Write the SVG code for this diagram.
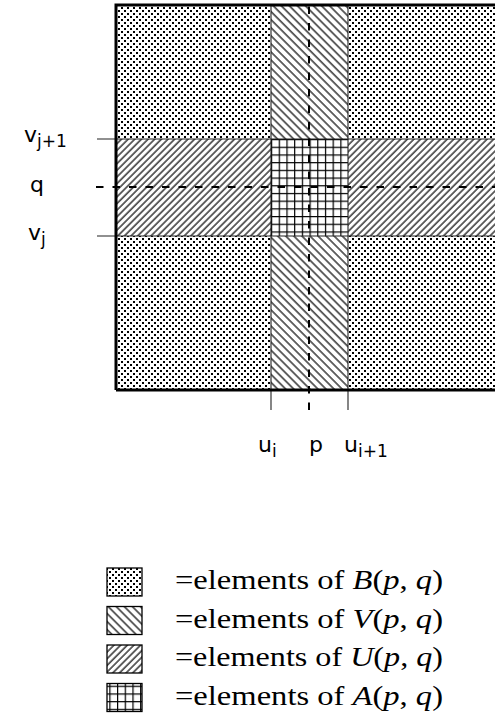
<svg xmlns="http://www.w3.org/2000/svg" width="495" height="720" viewBox="0 0 495 720">
<style>
.lbl{font-family:"DejaVu Sans",sans-serif;font-size:22px;fill:#000}
.sub{font-size:17px}
.leg{font-family:"Liberation Serif",serif;font-size:27px;fill:#000}
.it{font-style:italic}
.thin{stroke:#222;stroke-width:1.1;fill:none}
.dash{stroke:#000;stroke-width:2;stroke-dasharray:7.5 9;fill:none}
.box{stroke:#000;stroke-width:1.3}
</style>
<defs>
<pattern id="dots" patternUnits="userSpaceOnUse" width="6" height="6">
<rect width="6" height="6" fill="#fff"/>
<rect x="1" y="1" width="2" height="2" fill="#000"/>
<rect x="4" y="4" width="2" height="2" fill="#000"/>
</pattern>
<pattern id="hatchV" patternUnits="userSpaceOnUse" width="5.7" height="10" patternTransform="rotate(-45)">
<rect width="5.7" height="10" fill="#fff"/>
<line x1="1" y1="0" x2="1" y2="10" stroke="#000" stroke-width="1.2"/>
</pattern>
<pattern id="hatchU" patternUnits="userSpaceOnUse" width="4.7" height="10" patternTransform="rotate(45)">
<rect width="4.7" height="10" fill="#fff"/>
<line x1="1" y1="0" x2="1" y2="10" stroke="#000" stroke-width="1.2"/>
</pattern>
<pattern id="grid" patternUnits="userSpaceOnUse" x="271" y="139" width="7.7" height="7.7">
<rect width="7.7" height="7.7" fill="#fff"/>
<path d="M0.6 0V7.7M0 0.6H7.7" stroke="#000" stroke-width="1.2"/>
</pattern>
</defs>
<g id="regions">
<rect id="B" x="116" y="5" width="400" height="385" fill="url(#dots)"/>
<rect id="V" x="271" y="5" width="77" height="385" fill="url(#hatchV)"/>
<rect id="U" x="116" y="139" width="400" height="97" fill="url(#hatchU)"/>
<rect id="A" x="271" y="139" width="77" height="97" fill="url(#grid)"/>
</g>
<g id="connectors">
<line class="thin" x1="97" y1="139" x2="495" y2="139"/>
<line class="thin" x1="97" y1="236" x2="495" y2="236"/>
<line class="thin" x1="271" y1="5" x2="271" y2="410"/>
<line class="thin" x1="348" y1="5" x2="348" y2="410"/>
<line class="dash" x1="96" y1="187" x2="495" y2="187"/>
<line class="dash" x1="309" y1="410" x2="309" y2="5"/>
<path d="M116 390V5H500M116 390H500" fill="none" stroke="#000" stroke-width="3"/>
</g>
<g id="labels">
<text class="lbl" x="24" y="142">v<tspan class="sub" dy="5">j+1</tspan></text>
<text class="lbl" x="30" y="192">q</text>
<text class="lbl" x="28" y="240">v<tspan class="sub" dy="5">j</tspan></text>
<text class="lbl" x="258" y="452">u<tspan class="sub" dy="5">i</tspan></text>
<text class="lbl" x="309" y="452">p</text>
<text class="lbl" x="344" y="452">u<tspan class="sub" dy="5">i+1</tspan></text>
</g>
<g id="legend">
<g id="legB"><rect class="box" x="107" y="568" width="35" height="28" fill="url(#dots)"/>
<text class="leg" x="175" y="589" textLength="268" lengthAdjust="spacingAndGlyphs">=elements of <tspan class="it">B</tspan>(<tspan class="it">p</tspan>, <tspan class="it">q</tspan>)</text></g>
<g id="legV"><rect class="box" x="107" y="606.5" width="35" height="28" fill="url(#hatchV)"/>
<text class="leg" x="175" y="627.5" textLength="268" lengthAdjust="spacingAndGlyphs">=elements of <tspan class="it">V</tspan>(<tspan class="it">p</tspan>, <tspan class="it">q</tspan>)</text></g>
<g id="legU"><rect class="box" x="107" y="645" width="35" height="28" fill="url(#hatchU)"/>
<text class="leg" x="175" y="666" textLength="268" lengthAdjust="spacingAndGlyphs">=elements of <tspan class="it">U</tspan>(<tspan class="it">p</tspan>, <tspan class="it">q</tspan>)</text></g>
<g id="legA"><rect class="box" x="107" y="683.5" width="35" height="28" fill="url(#grid)"/>
<text class="leg" x="175" y="704.5" textLength="268" lengthAdjust="spacingAndGlyphs">=elements of <tspan class="it">A</tspan>(<tspan class="it">p</tspan>, <tspan class="it">q</tspan>)</text></g>
</g>
</svg>
